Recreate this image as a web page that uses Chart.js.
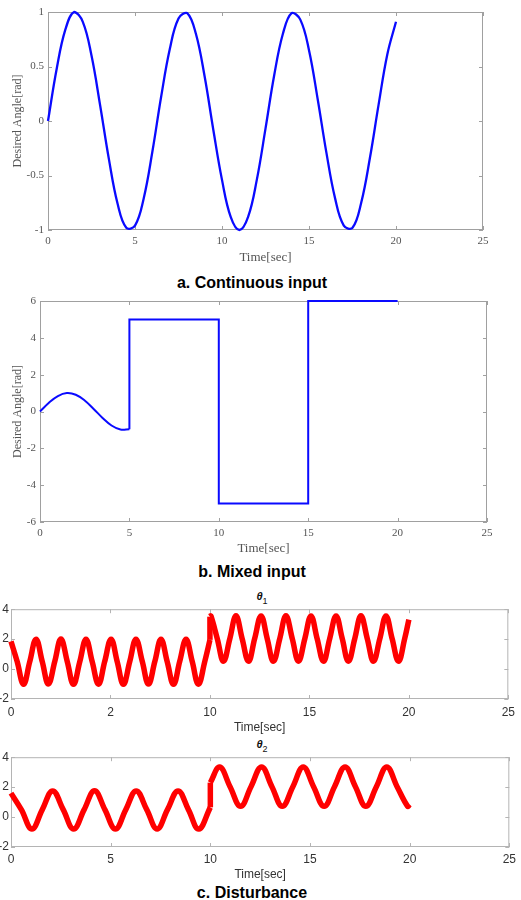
<!DOCTYPE html>
<html>
<head>
<meta charset="utf-8">
<script src="https://cdn.jsdelivr.net/npm/chart.js@4.4.1/dist/chart.umd.min.js"></script>
<style>
  html, body { margin: 0; padding: 0; background: #fff; }
  #page { position: relative; width: 521px; height: 900px; overflow: hidden; background: #fff; }
  canvas { position: absolute; left: 0; }
  .caption {
    position: absolute; left: 0; width: 504px; text-align: center;
    font: bold 16px "Liberation Sans", Arial, sans-serif; line-height: 19px; color: #000;
  }
  .theta {
    position: absolute; left: 0; width: 524px; text-align: center;
    font: bold italic 11px "Liberation Sans", Arial, sans-serif; line-height: 12px; color: #111;
  }
  .theta sub { font: normal 9px "Liberation Sans", Arial, sans-serif; vertical-align: -4px; }
</style>
</head>
<body>
<div id="page">
  <canvas id="chartA" width="521" height="266" style="top:0px"></canvas>
  <div class="caption" style="top:273px">a. Continuous input</div>
  <canvas id="chartB" width="521" height="270" style="top:288px"></canvas>
  <div class="caption" style="top:562px">b. Mixed input</div>
  <div class="theta" style="top:590px"><i>θ</i><sub>1</sub></div>
  <canvas id="chartC1" width="521" height="135" style="top:600px"></canvas>
  <div class="theta" style="top:738px"><i>θ</i><sub>2</sub></div>
  <canvas id="chartC2" width="521" height="135" style="top:748px"></canvas>
  <div class="caption" style="top:883px">c. Disturbance</div>
</div>
<script>
// a. continuous input: desired angle sampled every 0.5 s
const timeA = [0, 0.5, 1, 1.5, 2, 2.5, 3, 3.5, 4, 4.5, 5, 5.5, 6, 6.5, 7, 7.5, 8, 8.5, 9, 9.5,
  10, 10.5, 11, 11.5, 12, 12.5, 13, 13.5, 14, 14.5, 15, 15.5, 16, 16.5, 17, 17.5, 18, 18.5, 19, 19.5, 20];
const angleA = [0, 0.48, 0.84, 1.00, 0.91, 0.60, 0.14, -0.35, -0.76, -0.98, -0.96, -0.71, -0.28, 0.22, 0.66, 0.94, 0.99, 0.80, 0.41, -0.08,
  -0.54, -0.88, -1.00, -0.88, -0.54, -0.07, 0.42, 0.80, 0.99, 0.93, 0.65, 0.20, -0.29, -0.71, -0.96, -0.98, -0.75, -0.34, 0.15, 0.61, 0.91];

// b. mixed input: smooth part, then steps
const timeBWave = [0, 0.5, 1, 1.5, 2, 2.5, 3, 3.5, 4, 4.5, 5];
const angleBWave = [0, 0.48, 0.84, 1.00, 0.91, 0.60, 0.14, -0.35, -0.76, -0.98, -0.96];
const timeBStep = [5, 5, 10, 10, 15, 15, 20];
const angleBStep = [-0.96, 5, 5, -5, -5, 6, 6];

// c. disturbance: centre line of theta1 / theta2, before and after the jump at 10 s
const timeC1Pre = [0, 0.31, 0.63, 0.94, 1.26, 1.57, 1.88, 2.20, 2.51, 2.83, 3.14, 3.46, 3.77, 4.08, 4.40, 4.71,
  5.03, 5.34, 5.65, 5.97, 6.28, 6.60, 6.91, 7.23, 7.54, 7.85, 8.17, 8.48, 8.80, 9.11, 9.42, 9.74, 10.00];
const thetaC1Pre = [1.85, 0.50, -1.02, 0.48, 2.00, 0.50, -1.00, 0.50, 2.01, 0.49, -1.02, 0.50, 2.00, 0.50, -1.01, 0.50,
  2.00, 0.49, -1.02, 0.50, 2.00, 0.50, -1.00, 0.50, 2.00, 0.50, -1.02, 0.50, 1.99, 0.50, -1.01, 0.50, 1.95];
const timeC1Post = [10.00, 10.05, 10.37, 10.68, 11.00, 11.31, 11.62, 11.94, 12.25, 12.57, 12.88, 13.19, 13.51, 13.82, 14.14, 14.45, 14.77,
  15.08, 15.39, 15.71, 16.02, 16.34, 16.65, 16.96, 17.28, 17.59, 17.91, 18.22, 18.54, 18.85, 19.16, 19.48, 19.79, 20.00];
const thetaC1Post = [3.50, 3.55, 2.03, 0.52, 2.03, 3.56, 2.03, 0.52, 2.04, 3.55, 2.03, 0.52, 2.03, 3.56, 2.03, 0.53, 2.03,
  3.55, 2.03, 0.52, 2.03, 3.55, 2.04, 0.52, 2.03, 3.56, 2.03, 0.52, 2.03, 3.55, 2.03, 0.52, 2.03, 3.30];

const timeC2Pre = [0, 0.52, 1.05, 1.57, 2.09, 2.62, 3.14, 3.67, 4.19, 4.71, 5.24, 5.76, 6.28, 6.81, 7.33, 7.85,
  8.38, 8.90, 9.42, 10.00];
const thetaC2Pre = [1.60, 0.50, -0.80, 0.50, 1.75, 0.50, -0.80, 0.50, 1.76, 0.50, -0.80, 0.50, 1.75, 0.50, -0.80, 0.50,
  1.75, 0.50, -0.80, 0.65];
const timeC2Post = [10.00, 10.47, 10.99, 11.52, 12.04, 12.57, 13.09, 13.61, 14.14, 14.66, 15.18,
  15.71, 16.23, 16.76, 17.28, 17.80, 18.33, 18.85, 19.37, 19.90, 20.00];
const thetaC2Post = [2.30, 3.35, 2.03, 0.72, 2.03, 3.35, 2.03, 0.72, 2.03, 3.35, 2.03,
  0.72, 2.03, 3.35, 2.03, 0.72, 2.03, 3.35, 2.03, 0.72, 0.85];

const xTicksC1 = ['0', '2', '10', '15', '20', '25'];
const xTicksC2 = ['0', '5', '10', '15', '20', '25'];

const toPoints = (xs, ys) => xs.map((x, i) => ({ x: x, y: ys[i] }));
// straight jump between the last point of one piece and the first of the next
const joinPoints = (xa, ya, xb, yb) => [
  { x: xa[xa.length - 1], y: ya[ya.length - 1] },
  { x: xb[0], y: yb[0] }
];

// MATLAB-like box round the plot area, with ticks pointing inwards
const boxTicks = {
  id: 'boxTicks',
  beforeDatasetsDraw(chart, args, opts) {
    const { ctx, chartArea: a, scales: { x, y } } = chart;
    const len = opts.len || 4;
    ctx.save();
    ctx.strokeStyle = opts.color || '#999';
    ctx.lineWidth = 1;
    ctx.strokeRect(a.left + 0.5, a.top + 0.5, a.right - a.left - 1, a.bottom - a.top - 1);
    ctx.beginPath();
    x.ticks.forEach(t => {
      const px = Math.round(x.getPixelForValue(t.value)) + 0.5;
      ctx.moveTo(px, a.bottom); ctx.lineTo(px, a.bottom - len);
      ctx.moveTo(px, a.top); ctx.lineTo(px, a.top + len);
    });
    y.ticks.forEach(t => {
      const py = Math.round(y.getPixelForValue(t.value)) + 0.5;
      ctx.moveTo(a.left, py); ctx.lineTo(a.left + len, py);
      ctx.moveTo(a.right, py); ctx.lineTo(a.right - len, py);
    });
    ctx.stroke();
    ctx.restore();
  }
};

function makeOptions(cfg) {
  return {
    responsive: false,
    animation: false,
    devicePixelRatio: 1,
    layout: { autoPadding: false, padding: cfg.padding },
    plugins: {
      legend: { display: false },
      tooltip: { enabled: false },
      boxTicks: { color: cfg.boxColor, len: 4 }
    },
    elements: { point: { radius: 0 } },
    scales: {
      x: {
        type: 'linear', min: 0, max: 25,
        grid: { display: false, drawTicks: false },
        border: { display: false },
        afterFit: (s) => { s.height = cfg.xHeight; },
        ticks: {
          stepSize: 5, padding: cfg.tickPad, color: cfg.tickColor, maxRotation: 0, autoSkip: false,
          font: { family: cfg.family, size: cfg.tickSize },
          callback: cfg.xLabels ? (v, i) => cfg.xLabels[i] : (v) => String(v)
        },
        title: {
          display: true, text: 'Time[sec]', color: cfg.tickColor,
          font: { family: cfg.family, size: cfg.titleSize },
          padding: { top: 0, bottom: cfg.titlePad }
        }
      },
      y: {
        type: 'linear', min: cfg.yMin, max: cfg.yMax,
        grid: { display: false, drawTicks: false },
        border: { display: false },
        afterFit: (s) => { s.width = cfg.yWidth; },
        ticks: {
          stepSize: cfg.yStep, padding: cfg.yTickPad, color: cfg.tickColor,
          font: { family: cfg.family, size: cfg.tickSize },
          callback: (v) => String(v)
        },
        title: {
          display: !!cfg.yTitle, text: cfg.yTitle || '', color: cfg.tickColor,
          font: { family: cfg.family, size: 12 },
          padding: { top: 11, bottom: 0 }
        }
      }
    }
  };
}

const serif = '"Liberation Serif", "Times New Roman", serif';
const sans = '"Liberation Sans", Arial, sans-serif';
const blue = '#0a0aff';
const red = '#ff0000';

new Chart(document.getElementById('chartA'), {
  type: 'line',
  data: {
    datasets: [{
      data: toPoints(timeA, angleA),
      borderColor: blue, borderWidth: 2.3, tension: 0.4, fill: false, clip: false
    }]
  },
  options: makeOptions({
    padding: { left: 0, top: 12, right: 38, bottom: 0 },
    xHeight: 36, yWidth: 48, tickPad: 5, titlePad: 1, titleSize: 13, yTickPad: 4,
    yMin: -1, yMax: 1, yStep: 0.5, yTitle: 'Desired Angle[rad]',
    family: serif, tickSize: 11, tickColor: '#555', boxColor: '#a0a0a0'
  }),
  plugins: [boxTicks]
});

new Chart(document.getElementById('chartB'), {
  type: 'line',
  data: {
    datasets: [
      { data: toPoints(timeBWave, angleBWave), borderColor: blue, borderWidth: 2, tension: 0.4, fill: false, clip: false },
      { data: toPoints(timeBStep, angleBStep), borderColor: blue, borderWidth: 2, tension: 0, fill: false, clip: false }
    ]
  },
  options: makeOptions({
    padding: { left: 0, top: 13, right: 34, bottom: 0 },
    xHeight: 36, yWidth: 40, tickPad: 5, titlePad: 2, titleSize: 13, yTickPad: 4,
    yMin: -6, yMax: 6, yStep: 2, yTitle: 'Desired Angle[rad]',
    family: serif, tickSize: 11, tickColor: '#555', boxColor: '#a0a0a0'
  }),
  plugins: [boxTicks]
});

function disturbanceSets(xa, ya, xb, yb) {
  const base = { borderColor: red, borderWidth: 5.5, fill: false, clip: false };
  return [
    Object.assign({ data: toPoints(xa, ya), tension: 0.4 }, base),
    Object.assign({ data: joinPoints(xa, ya, xb, yb), tension: 0 }, base),
    Object.assign({ data: toPoints(xb, yb), tension: 0.4 }, base)
  ];
}

new Chart(document.getElementById('chartC1'), {
  type: 'line',
  data: { datasets: disturbanceSets(timeC1Pre, thetaC1Pre, timeC1Post, thetaC1Post) },
  options: makeOptions({
    padding: { left: 0, top: 9, right: 4, bottom: 0 },
    xHeight: 36, yWidth: 11, tickPad: 6, titlePad: 0, titleSize: 12, yTickPad: 2,
    yMin: -2, yMax: 4, yStep: 2, xLabels: xTicksC1,
    family: sans, tickSize: 12, tickColor: '#333', boxColor: '#b4b4b4'
  }),
  plugins: [boxTicks]
});

new Chart(document.getElementById('chartC2'), {
  type: 'line',
  data: { datasets: disturbanceSets(timeC2Pre, thetaC2Pre, timeC2Post, thetaC2Post) },
  options: makeOptions({
    padding: { left: 0, top: 8, right: 4, bottom: 0 },
    xHeight: 36, yWidth: 11, tickPad: 5, titlePad: 1, titleSize: 12, yTickPad: 2,
    yMin: -2, yMax: 4, yStep: 2, xLabels: xTicksC2,
    family: sans, tickSize: 12, tickColor: '#333', boxColor: '#b4b4b4'
  }),
  plugins: [boxTicks]
});
</script>
</body>
</html>
